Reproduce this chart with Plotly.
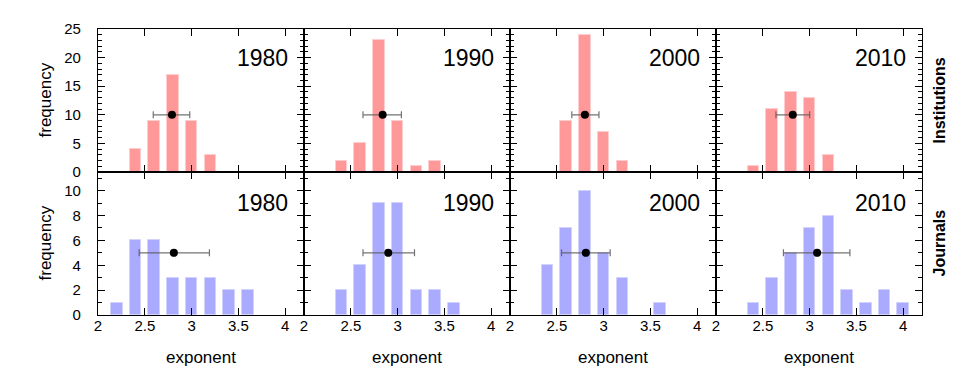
import plotly.graph_objects as go
from plotly.subplots import make_subplots

years = ["1980", "1990", "2000", "2010"]
bins = [2.2, 2.4, 2.6, 2.8, 3.0, 3.2, 3.4, 3.6, 3.8, 4.0]

inst_counts = {
    "1980": [0, 4, 9, 17, 9, 3, 0, 0, 0, 0],
    "1990": [0, 2, 5, 23, 9, 1, 2, 0, 0, 0],
    "2000": [0, 0, 9, 24, 7, 2, 0, 0, 0, 0],
    "2010": [0, 1, 11, 14, 13, 3, 0, 0, 0, 0],
}
jour_counts = {
    "1980": [1, 6, 6, 3, 3, 3, 2, 2, 0, 0],
    "1990": [0, 2, 4, 9, 9, 2, 2, 1, 0, 0],
    "2000": [0, 4, 7, 10, 5, 3, 0, 1, 0, 0],
    "2010": [0, 1, 3, 5, 7, 8, 2, 1, 2, 1],
}

inst_mean = [2.79, 2.84, 2.80, 2.82]
inst_lo = [2.59, 2.63, 2.66, 2.64]
inst_hi = [2.98, 3.04, 2.95, 3.00]
inst_mean_y = 10

jour_mean = [2.81, 2.90, 2.81, 3.08]
jour_lo = [2.44, 2.63, 2.55, 2.72]
jour_hi = [3.19, 3.18, 3.07, 3.43]
jour_mean_y = 5

row_labels = ["Institutions", "Journals"]

PINK = "rgb(255,153,153)"
PINK_EDGE = "rgb(255,205,205)"
BLUE = "rgb(170,170,255)"
BLUE_EDGE = "rgb(210,210,255)"
FONT = "Liberation Sans"

fig = make_subplots(rows=2, cols=4, horizontal_spacing=0, vertical_spacing=0)

rows = [
    (inst_counts, inst_mean, inst_lo, inst_hi, inst_mean_y, PINK, PINK_EDGE),
    (jour_counts, jour_mean, jour_lo, jour_hi, jour_mean_y, BLUE, BLUE_EDGE),
]

for r, (counts, means, los, his, my, col, edge) in enumerate(rows, start=1):
    for c, yr in enumerate(years, start=1):
        xs = [b for b, v in zip(bins, counts[yr]) if v > 0]
        ys = [v for v in counts[yr] if v > 0]
        fig.add_trace(go.Bar(x=xs, y=ys, width=0.125,
                             marker=dict(color=col, line=dict(color=edge, width=1)),
                             showlegend=False), row=r, col=c)
        m = means[c - 1]
        fig.add_trace(go.Scatter(
            x=[m], y=[my], mode="markers",
            marker=dict(color="black", size=8),
            error_x=dict(type="data", symmetric=False,
                         array=[his[c - 1] - m], arrayminus=[m - los[c - 1]],
                         color="rgba(90,90,90,0.85)", thickness=1.2, width=3.5),
            showlegend=False), row=r, col=c)

axis_common = dict(showline=True, linecolor="black", linewidth=1.2, mirror="allticks",
                   ticks="inside", ticklen=7, tickwidth=1.2, tickcolor="black",
                   showgrid=False, zeroline=False,
                   tickfont=dict(family=FONT, size=15, color="black"))

for r in (1, 2):
    for c in range(1, 5):
        fig.update_xaxes(range=[2, 4.2], tick0=2, dtick=0.5,
                         showticklabels=(r == 2), ticklabelstandoff=-3,
                         row=r, col=c, **axis_common)
        if r == 1:
            fig.update_yaxes(range=[0, 25], tick0=0, dtick=5,
                             minor=dict(dtick=1, ticklen=4, ticks="inside",
                                        tickcolor="black", tickwidth=1),
                             showticklabels=(c == 1), ticklabelstandoff=13,
                             row=r, col=c, **axis_common)
        else:
            fig.update_yaxes(range=[0, 11.5], tick0=0, dtick=2,
                             minor=dict(dtick=1, ticklen=4, ticks="inside",
                                        tickcolor="black", tickwidth=1),
                             showticklabels=(c == 1), ticklabelstandoff=13,
                             row=r, col=c, **axis_common)

annotations = []
for r in (1, 2):
    for c in range(1, 5):
        idx = (r - 1) * 4 + c
        sfx = "" if idx == 1 else str(idx)
        annotations.append(dict(
            text=years[c - 1], xref=f"x{sfx} domain", yref=f"y{sfx}",
            x=1, y=(20 if r == 1 else 9), xanchor="right", yanchor="middle",
            xshift=-14, showarrow=False,
            font=dict(family=FONT, size=23, color="black")))
        if r == 2:
            annotations.append(dict(
                text="exponent", xref=f"x{sfx} domain", yref="paper",
                x=0.5, y=0, xanchor="center", yanchor="middle", yshift=-42,
                showarrow=False, font=dict(family=FONT, size=17, color="black")))
    ysfx = "" if r == 1 else "5"
    annotations.append(dict(
        text="frequency", xref="paper", yref=f"y{ysfx} domain",
        x=0, y=0.5, xanchor="center", yanchor="middle", xshift=-53,
        textangle=-90, showarrow=False,
        font=dict(family=FONT, size=17, color="black")))
    annotations.append(dict(
        text=f"<b>{row_labels[r - 1]}</b>", xref="paper", yref=f"y{ysfx} domain",
        x=1, y=0.5, xanchor="center", yanchor="middle", xshift=17,
        textangle=-90, showarrow=False,
        font=dict(family=FONT, size=16, color="black")))

# page body has an 8px margin, so the figure is offset by it
fig.update_layout(
    width=946, height=367,
    margin=dict(l=90, r=32, t=19, b=60),
    plot_bgcolor="white", paper_bgcolor="white",
    bargap=0, annotations=annotations,
    font=dict(family=FONT, color="black"),
)

fig.write_html("out.html")
